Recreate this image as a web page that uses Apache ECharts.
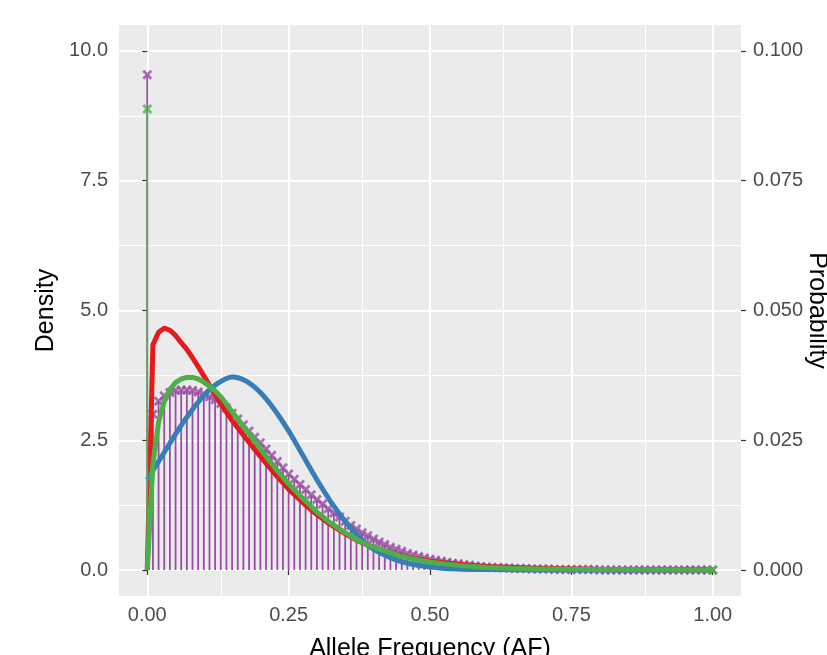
<!DOCTYPE html>
<html>
<head>
<meta charset="utf-8">
<script src="https://cdn.jsdelivr.net/npm/echarts@6/dist/echarts.min.js"></script>
<style>
  html, body { margin: 0; padding: 0; background: #ffffff; }
  #chart { width: 827px; height: 655px; }
</style>
</head>
<body>
<div id="chart"></div>
<script>
// Axis breaks
const xTicks = [0, 0.25, 0.5, 0.75, 1];
const xMinor = [0.125, 0.375, 0.625, 0.875];
const densityTicks = [0, 2.5, 5, 7.5, 10];
const densityMinor = [1.25, 3.75, 6.25, 8.75];
const probTicks = [0, 0.025, 0.05, 0.075, 0.1];

// Red density curve
const redAF = [0, 0.01, 0.02, 0.03, 0.04, 0.05, 0.06, 0.07, 0.08, 0.09, 0.10, 0.11, 0.12, 0.13, 0.14, 0.15,
  0.175, 0.2, 0.225, 0.25, 0.275, 0.3, 0.325, 0.35, 0.375, 0.4, 0.45, 0.5, 0.55, 0.6, 0.65, 0.7, 0.8, 0.9, 1];
const redDensity = [0, 4.34, 4.58, 4.66, 4.62, 4.52, 4.38, 4.25, 4.09, 3.92, 3.74, 3.56, 3.38, 3.21, 3.04, 2.88,
  2.53, 2.19, 1.86, 1.56, 1.30, 1.07, 0.87, 0.70, 0.55, 0.43, 0.27, 0.17, 0.11, 0.07, 0.05, 0.03, 0.01, 0.005, 0];

// Green density curve
const greenAF = [0, 0.01, 0.02, 0.03, 0.04, 0.05, 0.06, 0.07, 0.08, 0.09, 0.10, 0.11, 0.12, 0.13, 0.14, 0.15,
  0.175, 0.2, 0.225, 0.25, 0.275, 0.3, 0.325, 0.35, 0.375, 0.4, 0.45, 0.5, 0.55, 0.6, 0.65, 0.7, 0.8, 0.9, 1];
const greenDensity = [0, 2.05, 2.85, 3.25, 3.48, 3.61, 3.68, 3.71, 3.71, 3.68, 3.62, 3.54, 3.45, 3.34, 3.20, 3.05,
  2.70, 2.34, 1.98, 1.66, 1.38, 1.12, 0.90, 0.72, 0.56, 0.44, 0.26, 0.15, 0.09, 0.05, 0.03, 0.02, 0.01, 0.005, 0];

// Blue density curve
const blueAF = [0, 0.025, 0.05, 0.075, 0.1, 0.125, 0.15, 0.175, 0.2, 0.225, 0.25, 0.275, 0.3, 0.325, 0.35,
  0.375, 0.4, 0.45, 0.5, 0.55, 0.6, 0.7, 0.8, 1];
const blueDensity = [1.74, 2.18, 2.62, 3.02, 3.36, 3.60, 3.72, 3.64, 3.42, 3.09, 2.68, 2.21, 1.74, 1.31, 0.94,
  0.63, 0.40, 0.16, 0.06, 0.02, 0.01, 0, 0, 0];

// Purple probability mass, one value per AF step of 0.01 (0.00 .. 1.00)
const purpleProb = [
  0.0954, 0.0300, 0.0325, 0.0336, 0.0342, 0.0346, 0.0347, 0.0347, 0.0346, 0.0343,
  0.0339, 0.0334, 0.0328, 0.0321, 0.0312, 0.0302, 0.0291, 0.0280, 0.0268, 0.0256,
  0.0245, 0.0233, 0.0221, 0.0209, 0.0197, 0.0185, 0.0175, 0.0165, 0.0155, 0.0145,
  0.0136, 0.0127, 0.0118, 0.0110, 0.0102, 0.0094, 0.0086, 0.0079, 0.0072, 0.0066,
  0.0060, 0.0054, 0.0049, 0.0044, 0.0040, 0.0036, 0.0032, 0.0029, 0.0026, 0.0023,
  0.0021, 0.0019, 0.0017, 0.0015, 0.0013, 0.0012, 0.0010, 0.0009, 0.0008, 0.0007,
  0.0006, 0.0005, 0.0005, 0.0004, 0.0004, 0.0003, 0.0003, 0.0003, 0.0002, 0.0002,
  0.0002, 0.0002, 0.0001, 0.0001, 0.0001, 0.0001, 0.0001, 0.0001, 0.0001, 0.0001,
  0, 0, 0, 0, 0, 0, 0, 0, 0, 0,
  0, 0, 0, 0, 0, 0, 0, 0, 0, 0,
  0
];

// Green point masses at the two ends
const greenMassAF = [0, 1];
const greenMassProb = [0.0888, 0];

const RED = '#E41A1C', BLUE = '#377EB8', GREEN = '#4DAF4A', PURPLE = '#984EA3';
const FONT = '"Liberation Sans", Arial, sans-serif';
const CROSS = 'path://M2,0L5,3L8,0L10,2L7,5L10,8L8,10L5,7L2,10L0,8L3,5L0,2Z';

const zip = (xs, ys) => xs.map((x, i) => [x, ys[i]]);
const purpleAF = purpleProb.map((_, i) => i / 100);
const purplePts = zip(purpleAF, purpleProb);
const greenMassPts = zip(greenMassAF, greenMassProb);

// Vertical segment from the baseline to each value
function stem(color, width) {
  return function (params, api) {
    const x = api.value(0), y = api.value(1);
    const p0 = api.coord([x, 0]);
    const p1 = api.coord([x, y]);
    return {
      type: 'line',
      shape: { x1: p0[0], y1: p0[1], x2: p1[0], y2: p1[1] },
      style: { stroke: color, lineWidth: width }
    };
  };
}

const tickStyle = { show: true, length: 5, lineStyle: { color: '#333333', width: 1.2 } };
const labelStyle = { color: '#4D4D4D', fontSize: 20, fontFamily: FONT };

const chart = echarts.init(document.getElementById('chart'), null, { renderer: 'canvas' });

chart.setOption({
  animation: false,
  backgroundColor: '#ffffff',
  grid: {
    left: 119, right: 86, top: 25, bottom: 59,
    show: true, backgroundColor: '#EBEBEB', borderWidth: 0,
    containLabel: false
  },
  xAxis: {
    type: 'value', min: -0.05, max: 1.05,
    axisLine: { show: false },
    axisTick: Object.assign({ customValues: xTicks }, tickStyle),
    axisLabel: Object.assign({ customValues: xTicks, margin: 9, formatter: v => v.toFixed(2) }, labelStyle),
    splitLine: { show: true, lineStyle: { color: '#ffffff', width: 2 } }
  },
  yAxis: [
    {
      type: 'value', position: 'left', min: -0.5, max: 10.5,
      axisLine: { show: false },
      axisTick: Object.assign({ customValues: densityTicks }, tickStyle),
      axisLabel: Object.assign({ customValues: densityTicks, margin: 11, formatter: v => v.toFixed(1) }, labelStyle),
      splitLine: { show: true, lineStyle: { color: '#ffffff', width: 2 } }
    },
    {
      type: 'value', position: 'right', min: -0.005, max: 0.105,
      axisLine: { show: false },
      axisTick: Object.assign({ customValues: probTicks }, tickStyle),
      axisLabel: Object.assign({ customValues: probTicks, margin: 12, formatter: v => v.toFixed(3) }, labelStyle),
      splitLine: { show: false }
    }
  ],
  graphic: [
    {
      type: 'text', x: 430, y: 649, silent: true,
      style: { text: 'Allele Frequency (AF)', fill: '#000000', font: '25px ' + FONT, align: 'center', verticalAlign: 'middle' }
    },
    {
      type: 'text', x: 46, y: 310.5, rotation: Math.PI / 2, silent: true,
      style: { text: 'Density', fill: '#000000', font: '25px ' + FONT, align: 'center', verticalAlign: 'middle' }
    },
    {
      type: 'text', x: 817, y: 310.5, rotation: -Math.PI / 2, silent: true,
      style: { text: 'Probability', fill: '#000000', font: '25px ' + FONT, align: 'center', verticalAlign: 'middle' }
    }
  ],
  series: [
    {
      // minor grid lines
      type: 'line', xAxisIndex: 0, yAxisIndex: 0, data: [[0, 0]], symbol: 'none',
      lineStyle: { opacity: 0 }, silent: true, z: 0,
      markLine: {
        silent: true, symbol: ['none', 'none'], label: { show: false }, z: 0,
        emphasis: { disabled: true },
        lineStyle: { color: '#ffffff', width: 1, type: 'solid' },
        data: xMinor.map(v => ({ xAxis: v })).concat(densityMinor.map(v => ({ yAxis: v })))
      }
    },
    {
      type: 'custom', xAxisIndex: 0, yAxisIndex: 1, z: 2,
      renderItem: stem(PURPLE, 1.8), data: purplePts, encode: { x: 0, y: 1 }, silent: true
    },
    {
      type: 'scatter', xAxisIndex: 0, yAxisIndex: 1, z: 3,
      data: purplePts, symbol: CROSS, symbolSize: 10,
      itemStyle: { color: PURPLE }, silent: true
    },
    {
      type: 'line', xAxisIndex: 0, yAxisIndex: 0, z: 4,
      data: zip(redAF, redDensity), symbol: 'none', smooth: false,
      lineStyle: { color: RED, width: 5, join: 'round', cap: 'butt' }, silent: true
    },
    {
      type: 'line', xAxisIndex: 0, yAxisIndex: 0, z: 5,
      data: zip(blueAF, blueDensity), symbol: 'none', smooth: 0.3,
      lineStyle: { color: BLUE, width: 5, join: 'round', cap: 'butt' }, silent: true
    },
    {
      type: 'line', xAxisIndex: 0, yAxisIndex: 0, z: 6,
      data: zip(greenAF, greenDensity), symbol: 'none', smooth: false,
      lineStyle: { color: GREEN, width: 5, join: 'round', cap: 'butt' }, silent: true
    },
    {
      type: 'custom', xAxisIndex: 0, yAxisIndex: 1, z: 7,
      renderItem: stem(GREEN, 1.8), data: greenMassPts, encode: { x: 0, y: 1 }, silent: true
    },
    {
      type: 'scatter', xAxisIndex: 0, yAxisIndex: 1, z: 8,
      data: greenMassPts, symbol: CROSS, symbolSize: 10,
      itemStyle: { color: GREEN }, silent: true
    }
  ]
});
</script>
</body>
</html>
